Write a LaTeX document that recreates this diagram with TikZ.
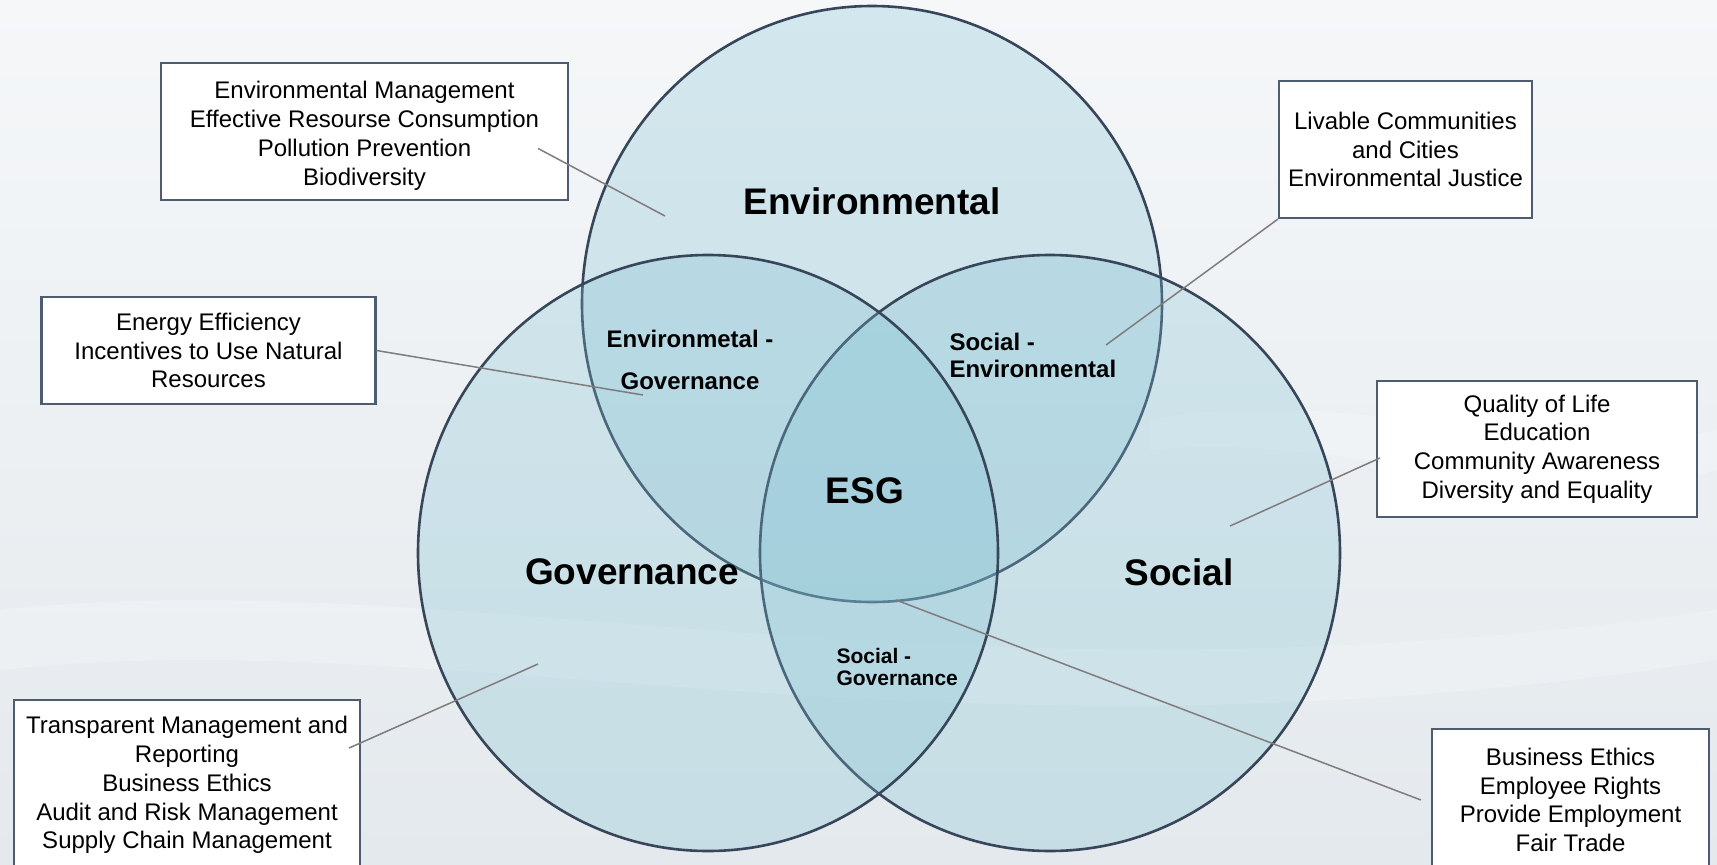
\documentclass[tikz,border=0pt]{standalone}
\usepackage{fontspec}
\setmainfont{Liberation Sans}
\usepackage{tikz}
\usepackage{xcolor}

\definecolor{ringline}{RGB}{55,70,90}
\definecolor{ringfill}{RGB}{125,192,210}
\definecolor{boxline}{RGB}{78,92,112}
\definecolor{leaderline}{RGB}{128,124,126}
\definecolor{bgtop}{RGB}{245,247,249}
\definecolor{bgbottom}{RGB}{228,233,237}

\begin{document}
\begin{tikzpicture}[x=1pt, y=-1pt,
  ring/.style={draw=ringline, line width=2.6pt, fill=ringfill, fill opacity=0.28},
  infobox/.style={draw=boxline, line width=2.2pt, fill=white!96!bgtop, align=center, inner sep=0pt,
    font=\fontsize{24}{28.8}\selectfont},
  setlabel/.style={font=\fontsize{37}{44}\selectfont\bfseries},
  pairlabel/.style={font=\fontsize{24}{27}\selectfont\bfseries},
  leader/.style={draw=leaderline, line width=1.5pt}]
  \useasboundingbox (0,0) rectangle (1717,865);
  \clip (0,0) rectangle (1717,865);
  \shade[top color=bgtop, bottom color=bgbottom] (0,0) rectangle (1717,865);
  \fill[white, fill opacity=0.22] (0,610) .. controls (450,560) and (950,720) .. (1717,610)
    -- (1717,660) .. controls (950,780) and (450,620) .. (0,670) -- cycle;
  \fill[white, fill opacity=0.2] (1150,420) .. controls (1350,380) and (1550,470) .. (1717,430)
    -- (1717,470) .. controls (1550,520) and (1350,430) .. (1150,450) -- cycle;

  \draw[ring] (872,304) ellipse [x radius=290pt, y radius=298pt];
  \draw[ring] (1050,553) ellipse [x radius=290pt, y radius=298pt];
  \draw[ring] (708,553) ellipse [x radius=290pt, y radius=298pt];

  \node[setlabel] at (872,201) (envlabel) {Environmental};
  \node[setlabel] at (632,572) (govlabel) {Governance};
  \node[setlabel] at (1179,572) (soclabel) {Social};
  \node[setlabel] at (865,491) (esglabel) {ESG};
  \node[pairlabel, align=center, font=\fontsize{24}{42}\selectfont\bfseries] at (690,360) (envgov) {Environmetal -\\Governance};
  \node[pairlabel, align=left, anchor=west] at (946,355) (socenv) {Social -\\Environmental};
  \node[pairlabel, align=left, anchor=west, font=\fontsize{21}{22.5}\selectfont\bfseries] at (833,667) (socgov) {Social -\\Governance};

  \node[infobox, minimum width=407pt, minimum height=137pt] at (364.5,131.5) (envbox)
    {\rule{0pt}{26pt}Environmental Management\\Effective Resourse Consumption\\Pollution Prevention\\Biodiversity};
  \node[infobox, minimum width=253pt, minimum height=137pt] at (1405.5,149.5) (livbox)
    {Livable Communities\\and Cities\\Environmental Justice};
  \node[infobox, minimum width=334pt, minimum height=107pt] at (208.5,350.5) (energybox)
    {Energy Efficiency\\Incentives to Use Natural\\Resources};
  \node[infobox, minimum width=320pt, minimum height=136pt] at (1537,449) (qualbox)
    {Quality of Life\\Education\\Community Awareness\\Diversity and Equality};
  \node[infobox, minimum width=346pt, minimum height=170pt] at (187,785) (transbox)
    {Transparent Management and\\Reporting\\Business Ethics\\Audit and Risk Management\\Supply Chain Management};
  \node[infobox, minimum width=277pt, minimum height=142pt] at (1570.5,800) (busbox)
    {Business Ethics\\Employee Rights\\Provide Employment\\Fair Trade};

  \coordinate (envdot) at (665,216);
  \coordinate (livdot) at (1106,345);
  \coordinate (energydot) at (643,395);
  \coordinate (qualdot) at (1230,526);
  \coordinate (transdot) at (538,664);
  \coordinate (busdot) at (896,600);

  \draw[leader] ([xshift=-31pt,yshift=-17pt]envbox.east) -- (envdot);
  \draw[leader] (livbox.south west) -- (livdot);
  \draw[leader] (energybox.east) -- (energydot);
  \draw[leader] ([xshift=4pt,yshift=-9pt]qualbox.west) -- (qualdot);
  \draw[leader] ([xshift=-12pt,yshift=37pt]transbox.east) -- (transdot);
  \draw[leader] ([xshift=-10pt]busbox.west) -- (busdot);
\end{tikzpicture}
\end{document}
